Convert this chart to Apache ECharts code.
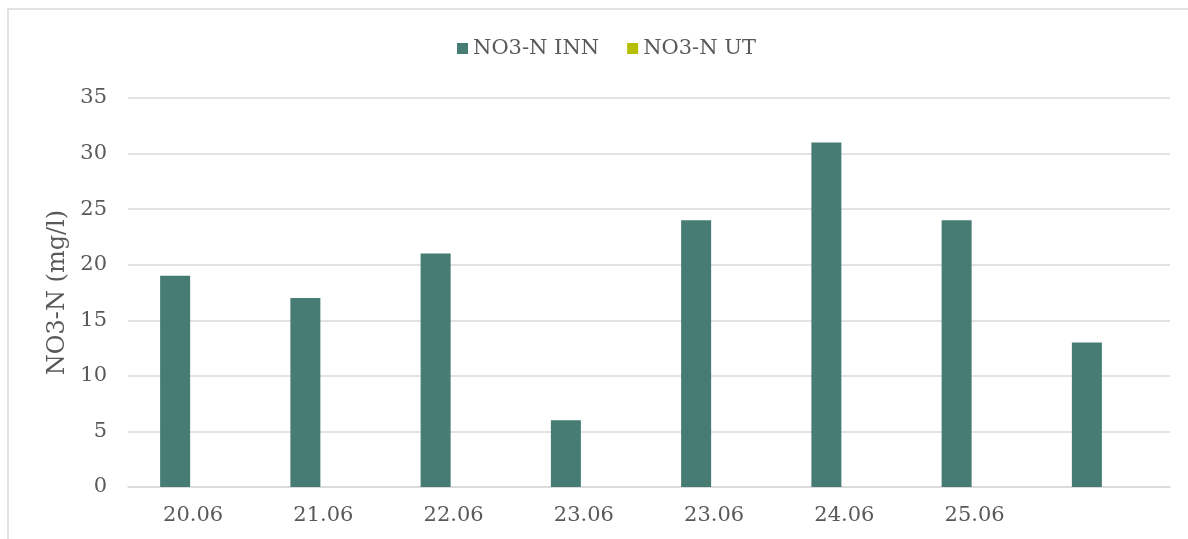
<!DOCTYPE html>
<html>
<head>
<meta charset="utf-8">
<script src="https://cdn.jsdelivr.net/npm/echarts@6/dist/echarts.min.js"></script>
<style>
  html, body { margin: 0; padding: 0; background: #ffffff; }
  #chart { width: 1188px; height: 539px; }
</style>
</head>
<body>
<div id="chart"></div>
<script>
// Sampling dates (the last sample has no date label)
const categories = ['20.06', '21.06', '22.06', '23.06', '23.06', '24.06', '25.06', ''];
// Nitrate nitrogen, inflow and outflow (mg/l)
const no3nInn = [19, 17, 21, 6, 24, 31, 24, 13];
const no3nUt = [null, null, null, null, null, null, null, null];
const seriesNames = ['NO3-N INN', 'NO3-N UT'];
const yAxisName = 'NO3-N (mg/l)';

const textColor = '#595959';
const lineColor = '#d9d9d9';
const font = '"DejaVu Serif", "Liberation Serif", serif';

const chart = echarts.init(document.getElementById('chart'));
chart.setOption({
  animation: false,
  backgroundColor: '#ffffff',
  textStyle: { fontFamily: font, color: textColor },
  graphic: [{
    type: 'rect',
    shape: { x: 8, y: 9, width: 1300, height: 700 },
    style: { fill: 'none', stroke: lineColor, lineWidth: 1.5 },
    silent: true
  }],
  legend: {
    left: 452,
    top: 33,
    itemWidth: 11,
    itemHeight: 11,
    itemGap: 28,
    icon: 'rect',
    textStyle: { fontFamily: font, color: textColor, fontSize: 21 },
    data: seriesNames
  },
  grid: { left: 128, right: 18, top: 98, bottom: 52 },
  xAxis: {
    type: 'category',
    data: categories,
    axisLine: { lineStyle: { color: lineColor, width: 1.5 } },
    axisTick: { show: false },
    axisLabel: { color: textColor, fontFamily: font, fontSize: 21, margin: 18 }
  },
  yAxis: {
    type: 'value',
    min: 0,
    max: 35,
    interval: 5,
    name: yAxisName,
    nameLocation: 'middle',
    nameGap: 58,
    nameTextStyle: { color: textColor, fontFamily: font, fontSize: 24 },
    axisLine: { show: false },
    axisTick: { show: false },
    axisLabel: { color: textColor, fontFamily: font, fontSize: 21, margin: 21 },
    splitLine: { lineStyle: { color: lineColor, width: 1.5 } }
  },
  series: [
    {
      name: seriesNames[0],
      type: 'bar',
      data: no3nInn,
      barWidth: 30,
      barGap: '20%',
      itemStyle: { color: '#467c74' }
    },
    {
      name: seriesNames[1],
      type: 'bar',
      data: no3nUt,
      barWidth: 30,
      barGap: '20%',
      itemStyle: { color: '#b5be00' }
    }
  ]
});
</script>
</body>
</html>
